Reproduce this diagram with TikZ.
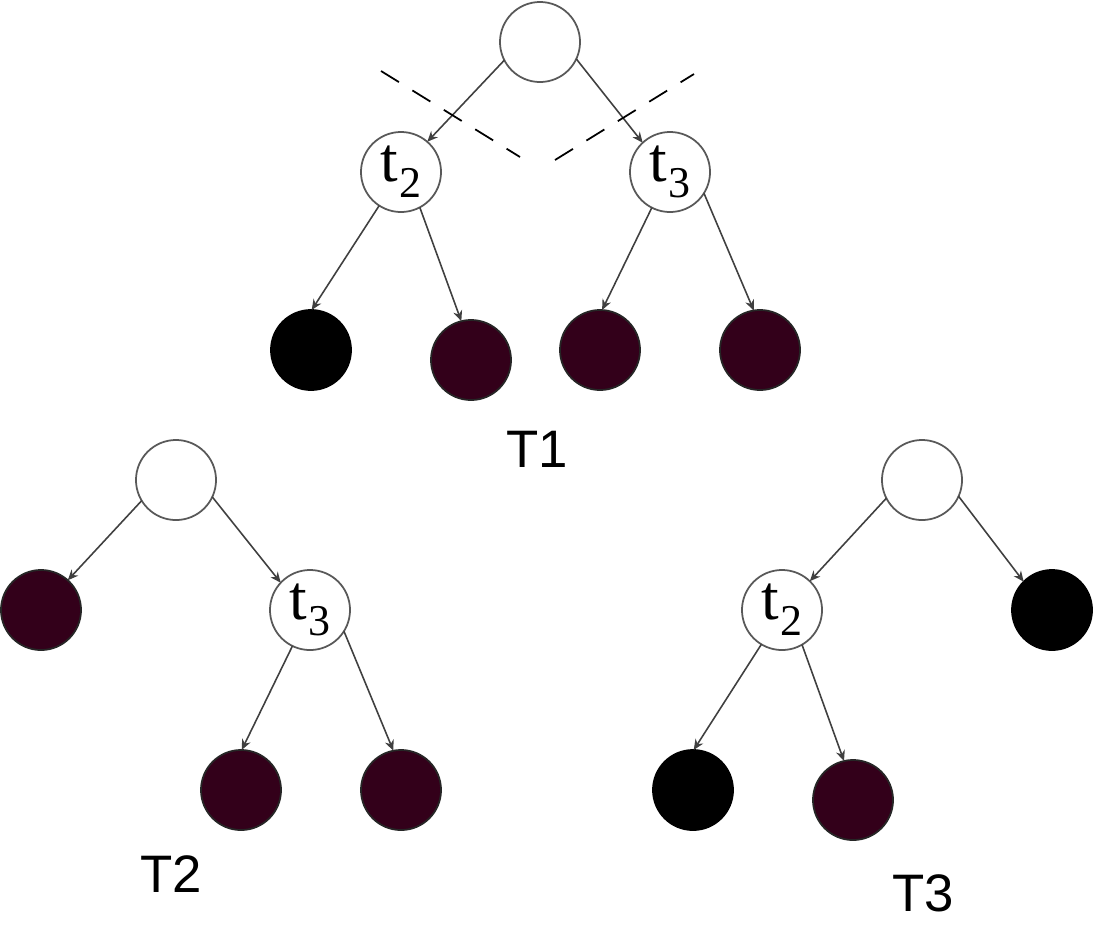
\documentclass[tikz,border=0pt]{standalone}
\usepackage{fontspec}
\setmainfont{Liberation Sans}
\newfontfamily\serifletter{Liberation Serif}
\usepackage{tikz}
\usetikzlibrary{arrows.meta}
\definecolor{leafred}{RGB}{51,0,26}
\newcommand{\tlab}[1]{{\serifletter\fontsize{18}{18}\selectfont t\hspace{0.6pt}\raisebox{-4.5pt}{\fontsize{12.5}{12.5}\selectfont #1}}}

\begin{document}
\begin{tikzpicture}[x=0.01cm, y=-0.01cm,
    vertex/.style={circle, draw=black!65, line width=0.5pt, fill=white, minimum size=0.8cm, inner sep=0pt, outer sep=0pt},
    blackleaf/.style={vertex, fill=black, draw=black},
    darkleaf/.style={vertex, fill=leafred, draw=black!85},
    branch/.style={draw=black!75, line width=0.45pt, -{Stealth[length=3pt, width=2.6pt]}},
    cut/.style={dash pattern=on 6pt off 4.5pt, line width=0.5pt},
    treename/.style={font=\fontsize{15}{18}\selectfont}]
  \useasboundingbox (0,0) rectangle (1094,927);

  % tree T1
  \node[vertex] (a) at (540,42) {};
  \node[vertex] (at2) at (401,172) {\tlab{2}};
  \node[vertex] (at3) at (670,172) {\tlab{3}};
  \node[blackleaf] (a1) at (311,350) {};
  \node[darkleaf] (a2) at (471,360) {};
  \node[darkleaf] (a3) at (600,350) {};
  \node[darkleaf] (a4) at (760,350) {};
  \draw[branch] (a.207) -- (at2.49);
  \draw[branch] (a.335) -- (at3.133);
  \draw[branch] (at2.237) -- (a1.89);
  \draw[branch] (at2.298) -- (a2.104);
  \draw[branch] (at3.243) -- (a3.87);
  \draw[branch] (at3.328) -- (a4.99);
  \coordinate (cutL1) at (381,71);
  \coordinate (cutL2) at (520,157);
  \coordinate (cutR1) at (555,160);
  \coordinate (cutR2) at (694,74);
  \draw[cut] (cutL1) -- (cutL2);
  \draw[cut] (cutR1) -- (cutR2);
  \node[treename] (nameA) at (537,449) {T1};

  % tree T2
  \node[vertex] (b) at (176,480) {};
  \node[darkleaf] (b0) at (41,610) {};
  \node[vertex] (bt3) at (310,610) {\tlab{3}};
  \node[darkleaf] (b1) at (241,790) {};
  \node[darkleaf] (b2) at (401,790) {};
  \draw[branch] (b.211) -- (b0.48);
  \draw[branch] (b.335) -- (bt3.137);
  \draw[branch] (bt3.244) -- (b1.89);
  \draw[branch] (bt3.328) -- (b2.101);
  \node[treename] (nameB) at (171,874) {T2};

  % tree T3
  \node[vertex] (c) at (922,480) {};
  \node[vertex] (ct2) at (782,610) {\tlab{2}};
  \node[blackleaf] (c0) at (1052,610) {};
  \node[blackleaf] (c1) at (693,790) {};
  \node[darkleaf] (c2) at (853,800) {};
  \draw[branch] (c.207) -- (ct2.46);
  \draw[branch] (c.336) -- (c0.135);
  \draw[branch] (ct2.239) -- (c1.89);
  \draw[branch] (ct2.300) -- (c2.103);
  \node[treename] (nameC) at (923,893) {T3};
\end{tikzpicture}
\end{document}
